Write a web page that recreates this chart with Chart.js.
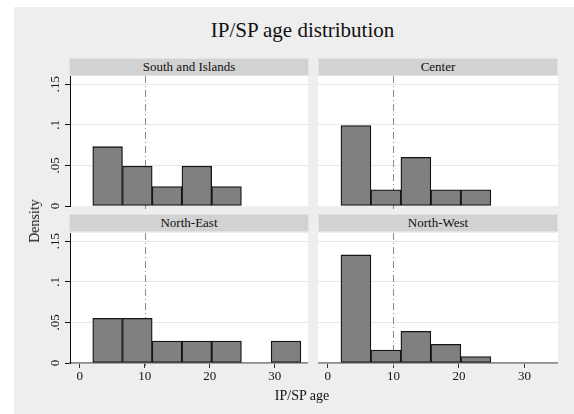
<!DOCTYPE html>
<html>
<head>
<meta charset="utf-8">
<script src="https://cdn.jsdelivr.net/npm/chart.js@4"></script>
<style>
  html, body { margin: 0; padding: 0; background: #fff; }
  body { width: 574px; height: 414px; position: relative; overflow: hidden;
         font-family: 'Liberation Serif', 'Times New Roman', serif; color: #111; }
  #frame { position: absolute; left: 14px; top: 7px; right: 0; bottom: 0; background: #eeeeee; }
  .strip { position: absolute; height: 16px; line-height: 16px; background: #d2d2d2;
           border: 1px solid #dde3e8; box-sizing: content-box; text-align: center; font-size: 13px; }
  canvas { position: absolute; }
  #title { position: absolute; left: 0; width: 605px; top: 20px; text-align: center;
           font-size: 21px; line-height: 21px; }
  #xtitle { position: absolute; left: 0; width: 604px; top: 389px; text-align: center;
            font-size: 14px; line-height: 14px; }
  #ytitle { position: absolute; left: 35px; top: 221px; font-size: 14px; line-height: 14px;
            transform: translate(-50%, -50%) rotate(-90deg); white-space: nowrap; }
</style>
</head>
<body>
<div id="frame"></div>
<div id="title">IP/SP age distribution</div>

<div class="strip" style="left:69px; top:58px; width:238px;">South and Islands</div>
<div class="strip" style="left:318px; top:58px; width:238px;">Center</div>
<div class="strip" style="left:69px; top:214px; width:238px;">North-East</div>
<div class="strip" style="left:318px; top:214px; width:238px;">North-West</div>

<canvas id="southIslands" width="294" height="150" style="left:14px; top:66px;"></canvas>
<canvas id="center" width="240" height="150" style="left:318px; top:66px;"></canvas>
<canvas id="northEast" width="294" height="167" style="left:14px; top:223px;"></canvas>
<canvas id="northWest" width="240" height="167" style="left:318px; top:223px;"></canvas>

<div id="ytitle">Density</div>
<div id="xtitle">IP/SP age</div>

<script>
// histogram bins (age), 7 bins of equal width from 2 to 34
const binEdges = [2, 6.57, 11.14, 15.71, 20.29, 24.86, 29.43, 34];

// densities per region (null = empty bin)
const southIslandsDensity = [0.073, 0.049, 0.024, 0.049, 0.024, null, null];
const centerDensity = [0.099, 0.020, 0.060, 0.020, 0.020, null, null];
const northEastDensity = [0.055, 0.055, 0.027, 0.027, 0.027, null, 0.027];
const northWestDensity = [0.133, 0.016, 0.039, 0.023, 0.008, null, null];

const xTicks = [0, 10, 20, 30];
const yTicks = [0, 0.05, 0.1, 0.15];
const xRange = [-1.5, 35.1];
const yMax = 0.16;
const refAge = 10;

const FONT = "'Liberation Serif', 'Times New Roman', serif";

const fmtY = (v) => (v === 0 ? '0' : String(v).replace(/^0/, ''));

const plotBackground = {
  id: 'plotBackground',
  beforeDraw(chart) {
    const { ctx, chartArea: a } = chart;
    ctx.save();
    ctx.fillStyle = '#ffffff';
    ctx.fillRect(a.left, a.top, a.right - a.left, a.bottom - a.top);
    ctx.restore();
  },
};

// dash-dot reference line at age 10, drawn under the bars
const refLine = {
  id: 'refLine',
  beforeDatasetsDraw(chart) {
    const { ctx, chartArea: a } = chart;
    const x = Math.round(chart.scales.x.getPixelForValue(refAge)) + 0.5;
    ctx.save();
    ctx.strokeStyle = '#8a8a8a';
    ctx.lineWidth = 1;
    ctx.setLineDash([7, 3, 1, 3]);
    ctx.beginPath();
    ctx.moveTo(x, a.top);
    ctx.lineTo(x, a.bottom + 3);
    ctx.stroke();
    ctx.restore();
  },
};

// Stata style rotated y tick labels
const rotatedYLabels = {
  id: 'rotatedYLabels',
  afterDraw(chart, args, opts) {
    if (!opts.show) return;
    const { ctx } = chart;
    const y = chart.scales.y;
    ctx.save();
    ctx.fillStyle = '#111';
    ctx.font = `13px ${FONT}`;
    ctx.textAlign = 'center';
    ctx.textBaseline = 'alphabetic';
    y.ticks.forEach((t) => {
      ctx.save();
      ctx.translate(y.right - 11, y.getPixelForValue(t.value));
      ctx.rotate(-Math.PI / 2);
      ctx.fillText(fmtY(t.value), 0, 0);
      ctx.restore();
    });
    ctx.restore();
  },
};

function makePanel(id, values, showY, showX) {
  const points = values.map((v, i) => ({
    x: (binEdges[i] + binEdges[i + 1]) / 2,
    y: v,
  }));

  return new Chart(document.getElementById(id), {
    type: 'bar',
    data: {
      datasets: [
        {
          data: points,
          backgroundColor: '#808080',
          borderColor: '#151515',
          borderWidth: 1.3,
          borderSkipped: false,
          barPercentage: 1,
          categoryPercentage: 1,
          grouped: false,
        },
      ],
    },
    options: {
      responsive: false,
      maintainAspectRatio: false,
      animation: false,
      devicePixelRatio: 1,
      layout: { padding: { top: 10, bottom: showX ? 0 : 10 } },
      plugins: {
        legend: { display: false },
        tooltip: { enabled: false },
        rotatedYLabels: { show: showY },
      },
      scales: {
        x: {
          type: 'linear',
          offset: false,
          min: xRange[0],
          max: xRange[1],
          display: showX,
          afterBuildTicks: (s) => {
            s.ticks = xTicks.map((v) => ({ value: v }));
          },
          afterFit: (s) => {
            s.height = showX ? 27 : 0;
          },
          grid: {
            offset: false,
            drawOnChartArea: false,
            drawTicks: true,
            tickLength: 5,
            tickColor: '#333',
          },
          border: { display: true, color: '#8c8c8c', width: 1.7 },
          ticks: {
            padding: 1,
            color: '#111',
            font: { family: FONT, size: 13 },
            maxRotation: 0,
            autoSkip: false,
          },
        },
        y: {
          type: 'linear',
          min: 0,
          max: yMax,
          afterBuildTicks: (s) => {
            s.ticks = yTicks.map((v) => ({ value: v }));
          },
          afterFit: (s) => {
            s.width = showY ? 56 : 0;
          },
          grid: {
            color: (c) => (c.tick && c.tick.value === 0 ? 'rgba(0,0,0,0)' : '#e8e8e8'),
            lineWidth: 1,
            drawTicks: showY,
            tickLength: 5,
            tickColor: '#111',
          },
          border: { display: showY, color: '#111', width: 1 },
          ticks: { display: false },
        },
      },
    },
    plugins: [plotBackground, refLine, rotatedYLabels],
  });
}

makePanel('southIslands', southIslandsDensity, true, false);
makePanel('center', centerDensity, false, false);
makePanel('northEast', northEastDensity, true, true);
makePanel('northWest', northWestDensity, false, true);
</script>
</body>
</html>
